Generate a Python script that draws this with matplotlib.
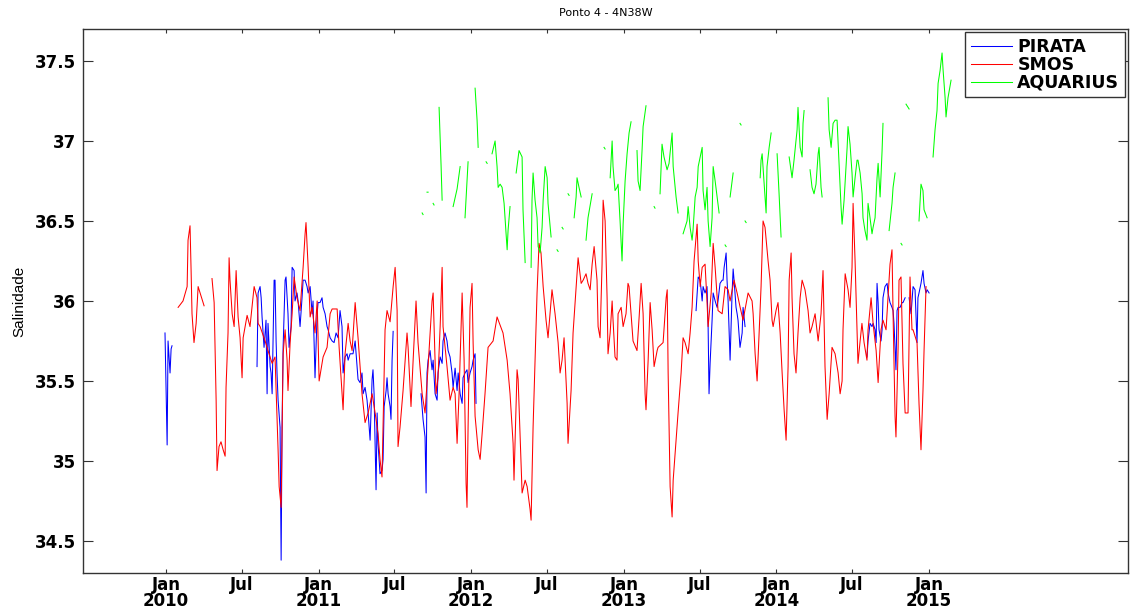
import numpy as np
import matplotlib
matplotlib.use("Agg")
import matplotlib.pyplot as plt
import matplotlib.dates as mdates
from datetime import datetime

nan = np.nan

# time in decimal years, salinity values (nan = gap)
pirata_t = [2009.993, 2010.007, 2010.013, 2010.026, 2010.033, 2010.039, nan,
            2010.596, 2010.603, 2010.616, 2010.623, 2010.629, 2010.642, 2010.655, 2010.662, 2010.668,
            2010.682, 2010.688, 2010.695, 2010.708, 2010.714, 2010.721, 2010.727, 2010.734, 2010.747,
            2010.754, 2010.760, 2010.767, 2010.780, 2010.786, 2010.799, 2010.806, 2010.819, 2010.826,
            2010.839, 2010.845, 2010.858, 2010.865, 2010.878, 2010.891, 2010.898, 2010.911, 2010.924,
            2010.931, 2010.944, 2010.957, 2010.963, 2010.976, 2010.990, 2010.996, 2011.009, 2011.022,
            2011.029, 2011.042, 2011.055, 2011.062, 2011.075, 2011.088, 2011.101, 2011.114, 2011.127,
            2011.140, 2011.153, 2011.160, 2011.173, 2011.186, 2011.193, 2011.206, 2011.219, 2011.225,
            2011.239, 2011.252, 2011.258, 2011.271, 2011.284, 2011.291, 2011.304, 2011.317, 2011.324,
            2011.337, 2011.350, 2011.356, 2011.363, 2011.376, 2011.383, 2011.389, 2011.402, 2011.415,
            2011.422, 2011.429, 2011.442, 2011.448, 2011.455, 2011.468, 2011.474, 2011.481, 2011.488, nan,
            2011.671, 2011.684, 2011.697, 2011.704, 2011.710, 2011.717, 2011.730, 2011.743, 2011.750,
            2011.763, 2011.776, 2011.782, 2011.796, 2011.809, 2011.815, 2011.828, 2011.841, 2011.848,
            2011.861, 2011.874, 2011.881, 2011.894, 2011.907, 2011.914, 2011.927, 2011.940, 2011.946,
            2011.959, 2011.972, 2011.979, 2011.992, 2012.005, 2012.012, 2012.025, 2012.031, nan,
            2013.473, 2013.480, 2013.487, 2013.500, 2013.513, 2013.519, 2013.532, 2013.545, 2013.552,
            2013.558, 2013.565, 2013.578, 2013.585, 2013.598, 2013.611, 2013.617, 2013.630, 2013.644,
            2013.650, 2013.657, 2013.670, 2013.676, 2013.683, 2013.696, 2013.709, 2013.716, 2013.722,
            2013.735, 2013.742, 2013.748, 2013.761, 2013.775, 2013.781, 2013.794, nan,
            2014.593, 2014.600, 2014.613, 2014.626, 2014.633, 2014.646, 2014.653, 2014.659, 2014.666,
            2014.672, 2014.685, 2014.692, 2014.698, 2014.711, 2014.725, 2014.731, 2014.744, 2014.757,
            2014.764, 2014.770, 2014.783, 2014.790, 2014.797, 2014.810, 2014.823, 2014.829, 2014.843, nan,
            2014.869, 2014.882, 2014.895, 2014.908, 2014.921, 2014.927, 2014.934, 2014.947, 2014.960,
            2014.967, 2014.980, 2014.987, 2015.000]
pirata_s = [35.80, 35.10, 35.75, 35.55, 35.70, 35.72, nan,
            35.59, 36.05, 36.09, 36.02, 35.90, 35.71, 35.88, 35.42, 35.86,
            35.59, 35.55, 35.42, 36.13, 36.13, 35.75, 35.55, 35.38, 35.21,
            34.38, 35.21, 35.71, 36.13, 36.15, 35.92, 35.71, 35.84, 36.21,
            36.19, 36.00, 36.05, 36.00, 35.84, 36.02, 36.13, 36.13, 36.09,
            36.05, 36.09, 35.92, 36.00, 35.52, 35.92, 35.99, 35.99, 36.02,
            35.96, 35.92, 35.84, 35.82, 35.77, 35.75, 35.74, 35.80, 35.77,
            35.94, 35.84, 35.55, 35.65, 35.67, 35.63, 35.67, 35.67, 35.67,
            35.75, 35.59, 35.51, 35.49, 35.55, 35.42, 35.46, 35.38, 35.30,
            35.13, 35.51, 35.57, 35.42, 34.82, 35.30, 35.11, 34.92, 34.94,
            35.01, 35.34, 35.44, 35.52, 35.42, 35.34, 35.26, 35.63, 35.81, nan,
            35.42, 35.26, 35.15, 34.80, 35.55, 35.63, 35.69, 35.57, 35.63,
            35.42, 35.38, 35.55, 35.65, 35.61, 35.75, 35.80, 35.75, 35.69,
            35.65, 35.55, 35.46, 35.58, 35.44, 35.55, 35.42, 35.36, 35.52,
            35.55, 35.57, 35.49, 35.55, 35.59, 35.63, 35.67, 35.36, nan,
            35.94, 36.05, 36.15, 36.13, 36.00, 36.09, 36.05, 36.09, 35.84,
            35.42, 35.61, 35.88, 36.05, 36.00, 35.96, 36.00, 36.11, 36.13,
            36.13, 36.21, 36.30, 36.13, 36.00, 35.63, 36.05, 36.20, 36.13,
            35.96, 35.92, 35.88, 35.71, 35.80, 35.96, 35.84, nan,
            35.65, 35.75, 35.86, 35.84, 35.86, 35.82, 35.74, 36.11, 35.99,
            35.82, 35.75, 35.82, 36.02, 36.09, 36.11, 36.05, 35.99, 35.96,
            35.94, 35.86, 35.57, 35.94, 35.96, 35.96, 35.99, 35.99, 36.02, nan,
            36.02, 35.92, 36.09, 36.07, 35.74, 36.02, 36.05, 36.11, 36.19,
            36.11, 36.05, 36.07, 36.05]

smos_t = [2010.079, 2010.111, 2010.138, 2010.144, 2010.157, 2010.164, 2010.170, 2010.183, 2010.197,
          2010.210, 2010.249, nan,
          2010.301, 2010.315, 2010.328, 2010.334, 2010.347, 2010.360, 2010.374, 2010.387, 2010.393,
          2010.406, 2010.413, 2010.419, 2010.433, 2010.446, 2010.459, 2010.472, 2010.485, 2010.498,
          2010.505, 2010.531, 2010.550, 2010.577, 2010.596, 2010.603, 2010.616, 2010.649, 2010.668,
          2010.695, 2010.714, 2010.734, 2010.741, 2010.754, 2010.767, 2010.780, 2010.793, 2010.799,
          2010.813, 2010.826, 2010.839, 2010.858, 2010.878, 2010.898, 2010.911, 2010.917, 2010.931,
          2010.944, 2010.957, 2010.976, 2010.990, 2011.003, 2011.029, 2011.055, 2011.075, 2011.088,
          2011.121, 2011.134, 2011.147, 2011.160, 2011.173, 2011.193, 2011.206, 2011.219, 2011.239,
          2011.258, 2011.284, 2011.304, 2011.324, 2011.350, 2011.370, 2011.389, 2011.402, 2011.415,
          2011.435, 2011.448, 2011.468, 2011.488, 2011.501, 2011.514, 2011.520, 2011.533, 2011.553,
          2011.579, 2011.586, 2011.605, 2011.619, 2011.638, 2011.651, 2011.678, 2011.697, 2011.717,
          2011.743, 2011.750, 2011.769, 2011.782, 2011.796, 2011.809, 2011.815, 2011.841, 2011.861,
          2011.881, 2011.894, 2011.907, 2011.920, 2011.940, 2011.953, 2011.966, 2011.972, 2011.979,
          2011.992, 2012.005, 2012.012, 2012.025, 2012.045, 2012.058, 2012.071, 2012.090, 2012.110,
          2012.143, 2012.169, 2012.208, 2012.235, 2012.254, 2012.274, 2012.280, 2012.300, 2012.307,
          2012.333, 2012.353, 2012.366, 2012.385, 2012.392, 2012.405, 2012.418, 2012.431, 2012.444,
          2012.457, 2012.471, 2012.490, 2012.503, 2012.516, 2012.529, 2012.549, 2012.569, 2012.582,
          2012.595, 2012.608, 2012.628, 2012.634, 2012.654, 2012.667, 2012.687, 2012.700, 2012.720,
          2012.733, 2012.752, 2012.765, 2012.779, 2012.792, 2012.805, 2012.824, 2012.831, 2012.844,
          2012.857, 2012.864, 2012.877, 2012.890, 2012.896, 2012.910, 2012.923, 2012.929, 2012.942,
          2012.955, 2012.962, 2012.982, 2012.995, 2013.014, 2013.027, 2013.034, 2013.047, 2013.060,
          2013.086, 2013.100, 2013.113, 2013.126, 2013.139, 2013.145, 2013.159, 2013.172, 2013.185,
          2013.198, 2013.218, 2013.224, 2013.257, 2013.277, 2013.284, 2013.290, 2013.303, 2013.316,
          2013.323, 2013.342, 2013.355, 2013.375, 2013.388, 2013.401, 2013.421, 2013.434, 2013.447,
          2013.460, 2013.480, 2013.487, 2013.500, 2013.513, 2013.532, 2013.545, 2013.552, 2013.572,
          2013.585, 2013.598, 2013.611, 2013.617, 2013.644, 2013.663, 2013.683, 2013.696, 2013.722,
          2013.742, 2013.762, 2013.781, 2013.814, 2013.840, 2013.847, 2013.860, 2013.873, 2013.886,
          2013.899, 2013.912, 2013.925, 2013.945, 2013.958, 2013.971, 2013.978, 2013.997, 2014.010,
          2014.024, 2014.037, 2014.050, 2014.063, 2014.076, 2014.083, 2014.096, 2014.102, 2014.115,
          2014.128, 2014.141, 2014.155, 2014.168, 2014.187, 2014.207, 2014.220, 2014.233, 2014.253,
          2014.273, 2014.292, 2014.305, 2014.318, 2014.332, 2014.345, 2014.364, 2014.384, 2014.404,
          2014.417, 2014.430, 2014.436, 2014.450, 2014.469, 2014.482, 2014.495, 2014.502, 2014.515,
          2014.534, 2014.547, 2014.560, 2014.574, 2014.593, 2014.600, 2014.620, 2014.633, 2014.653,
          2014.666, 2014.685, 2014.698, 2014.718, 2014.731, 2014.744, 2014.757, 2014.764, 2014.777,
          2014.783, 2014.797, 2014.803, 2014.816, 2014.829, 2014.843, 2014.862, 2014.875, 2014.888,
          2014.895, 2014.921, 2014.934, 2014.947, 2014.960, 2014.967, 2014.980]
smos_s = [35.96, 36.00, 36.09, 36.38, 36.47, 36.19, 35.92, 35.74, 35.86,
          36.09, 35.97, nan,
          36.14, 35.99, 35.38, 34.94, 35.09, 35.12, 35.07, 35.03, 35.46,
          35.80, 36.27, 36.13, 35.92, 35.84, 36.19, 35.90, 35.77, 35.52,
          35.77, 35.91, 35.84, 36.09, 36.02, 35.86, 35.84, 35.75, 35.69,
          35.61, 35.65, 35.07, 34.84, 34.71, 35.67, 35.82, 35.63, 35.44,
          35.74, 35.92, 36.15, 36.02, 35.94, 36.21, 36.42, 36.49, 36.21,
          35.90, 35.96, 35.80, 36.00, 35.50, 35.65, 35.71, 35.92, 35.95,
          35.95, 35.71, 35.52, 35.32, 35.67, 35.86, 35.75, 35.69, 35.99,
          35.77, 35.42, 35.24, 35.30, 35.42, 35.30, 35.17, 35.01, 34.90,
          35.82, 35.94, 35.87, 36.09, 36.21, 35.94, 35.09, 35.21, 35.44,
          35.80, 35.71, 35.34, 35.63, 36.00, 35.74, 35.42, 35.30, 35.59,
          36.00, 36.05, 35.42, 35.52, 35.84, 36.21, 35.84, 35.59, 35.38,
          35.46, 35.42, 35.11, 35.42, 36.05, 35.63, 34.86, 34.71, 35.21,
          35.96, 36.11, 35.74, 35.28, 35.07, 35.01, 35.17, 35.42, 35.71,
          35.75, 35.90, 35.80, 35.63, 35.42, 35.11, 34.88, 35.57, 35.51,
          34.80, 34.88, 34.84, 34.70, 34.63, 35.21, 35.63, 36.05, 36.36,
          36.30, 36.09, 35.88, 35.77, 35.92, 36.07, 35.92, 35.74, 35.55,
          35.63, 35.77, 35.36, 35.11, 35.44, 35.80, 36.09, 36.27, 36.11,
          36.13, 36.17, 36.11, 36.07, 36.23, 36.34, 36.13, 35.84, 35.77,
          36.23, 36.63, 36.50, 36.02, 35.67, 35.80, 36.00, 35.88, 35.65,
          35.63, 35.92, 35.96, 35.84, 35.92, 36.11, 36.09, 35.92, 35.75,
          35.69, 35.90, 36.11, 35.92, 35.42, 35.32, 35.63, 35.99, 35.82,
          35.59, 35.69, 35.71, 35.74, 36.02, 36.07, 35.55, 34.84, 34.65,
          34.88, 35.13, 35.30, 35.55, 35.77, 35.74, 35.67, 35.80, 35.96,
          36.25, 36.48, 36.25, 36.09, 36.21, 36.23, 35.99, 35.84, 36.05,
          36.36, 36.21, 36.02, 35.94, 35.92, 36.09, 36.07, 36.00, 36.13,
          36.05, 35.96, 35.88, 36.05, 36.00, 35.92, 35.67, 35.50, 35.80,
          36.09, 36.50, 36.46, 36.25, 36.13, 35.88, 35.84, 35.94, 35.99,
          35.80, 35.55, 35.32, 35.13, 35.59, 36.13, 36.30, 36.02, 35.67,
          35.55, 35.80, 36.02, 36.13, 36.07, 35.94, 35.80, 35.84, 35.92,
          35.75, 35.92, 36.19, 35.59, 35.26, 35.42, 35.71, 35.67, 35.55,
          35.42, 35.50, 35.82, 36.17, 36.07, 35.96, 36.21, 36.61, 36.25,
          35.61, 35.74, 35.86, 35.74, 35.63, 35.82, 36.02, 35.86, 35.69,
          35.49, 35.82, 35.88, 35.82, 36.02, 36.23, 36.32, 35.92, 35.28,
          35.15, 35.71, 36.13, 36.15, 35.61, 35.30, 35.30, 36.15, 35.82,
          35.82, 35.74, 35.36, 35.07, 35.44, 35.69, 36.09]

aquarius_t = [2011.678, 2011.684, nan, 2011.710, 2011.717, nan, 2011.750, 2011.756, nan,
              2011.789, 2011.802, 2011.809, nan, 2011.881, 2011.907, 2011.927, nan,
              2011.959, 2011.979, nan, 2012.025, 2012.038, 2012.045, nan, 2012.097, 2012.104, nan,
              2012.136, 2012.156, 2012.169, 2012.176, 2012.189, 2012.202, 2012.215, 2012.235, 2012.241,
              2012.254, nan, 2012.294, 2012.313, 2012.333, 2012.339, 2012.353, nan,
              2012.392, 2012.398, 2012.405, 2012.418, 2012.431, 2012.438, 2012.451, 2012.464, 2012.471,
              2012.484, 2012.497, 2012.503, 2012.523, nan, 2012.562, 2012.569, nan, 2012.595, 2012.602, nan,
              2012.634, 2012.641, nan, 2012.674, 2012.687, 2012.693, 2012.706, 2012.720, nan,
              2012.752, 2012.765, 2012.792, nan, 2012.870, 2012.877, nan,
              2012.910, 2012.923, 2012.929, 2012.942, 2012.955, 2012.962, 2012.975, 2012.988, 2012.995,
              2013.008, 2013.021, 2013.034, 2013.047, nan,
              2013.086, 2013.093, 2013.106, 2013.119, 2013.126, 2013.145, nan, 2013.198, 2013.204, nan,
              2013.237, 2013.250, 2013.263, 2013.283, 2013.296, 2013.316, 2013.323, 2013.342, 2013.355, nan,
              2013.388, 2013.414, 2013.421, 2013.434, 2013.447, 2013.453, 2013.467, 2013.480, 2013.487,
              2013.500, 2013.513, 2013.519, 2013.532, 2013.545, 2013.552, 2013.565, 2013.578, 2013.585,
              2013.598, 2013.611, 2013.624, nan, 2013.663, 2013.670, nan, 2013.696, 2013.716, nan,
              2013.761, 2013.768, nan, 2013.794, 2013.801, nan,
              2013.893, 2013.899, 2013.906, 2013.919, 2013.932, 2013.938, 2013.952, 2013.965, nan,
              2014.004, 2014.017, 2014.030, nan,
              2014.083, 2014.102, 2014.115, 2014.135, 2014.141, 2014.155, 2014.168, 2014.174, 2014.181, nan,
              2014.220, 2014.233, 2014.246, 2014.259, 2014.273, 2014.279, 2014.292, 2014.299, nan,
              2014.338, 2014.345, 2014.358, 2014.371, 2014.384, 2014.397, 2014.410, 2014.423, 2014.430,
              2014.443, 2014.463, 2014.469, 2014.482, 2014.495, 2014.502, 2014.515, 2014.528, 2014.534,
              2014.548, 2014.561, 2014.567, 2014.580, 2014.593, 2014.600, 2014.613, 2014.626, 2014.633,
              2014.646, 2014.659, 2014.666, 2014.679, 2014.692, 2014.698, nan,
              2014.738, 2014.757, 2014.764, 2014.777, nan, 2014.816, 2014.823, nan, 2014.849, 2014.869, nan,
              2014.934, 2014.947, 2014.960, 2014.967, 2014.987, nan,
              2015.026, 2015.039, 2015.052, 2015.059, 2015.072, 2015.085, 2015.092, 2015.105, 2015.111,
              2015.124, 2015.144]
aquarius_s = [36.55, 36.54, nan, 36.68, 36.68, nan, 36.61, 36.60, nan,
              37.21, 36.85, 36.63, nan, 36.59, 36.70, 36.84, nan,
              36.52, 36.87, nan, 37.33, 37.13, 36.96, nan, 36.87, 36.86, nan,
              36.92, 37.00, 36.84, 36.71, 36.73, 36.71, 36.61, 36.32, 36.44,
              36.59, nan, 36.80, 36.94, 36.90, 36.57, 36.24, nan,
              36.21, 36.63, 36.80, 36.63, 36.52, 36.34, 36.30, 36.46, 36.63,
              36.84, 36.77, 36.61, 36.40, nan, 36.32, 36.31, nan, 36.46, 36.45, nan,
              36.67, 36.66, nan, 36.52, 36.65, 36.77, 36.71, 36.65, nan,
              36.38, 36.52, 36.67, nan, 36.96, 36.95, nan,
              36.77, 37.00, 36.84, 36.69, 36.71, 36.73, 36.50, 36.25, 36.48,
              36.75, 36.92, 37.05, 37.12, nan,
              36.94, 36.75, 36.69, 36.94, 37.09, 37.22, nan, 36.59, 36.58, nan,
              36.67, 36.98, 36.90, 36.82, 36.86, 37.05, 36.84, 36.65, 36.55, nan,
              36.42, 36.50, 36.59, 36.46, 36.38, 36.44, 36.65, 36.71, 36.84,
              36.90, 36.96, 36.69, 36.57, 36.71, 36.50, 36.34, 36.52, 36.84,
              36.75, 36.65, 36.55, nan, 36.35, 36.34, nan, 36.65, 36.80, nan,
              37.11, 37.10, nan, 36.50, 36.49, nan,
              36.77, 36.88, 36.92, 36.73, 36.55, 36.84, 36.96, 37.05, nan,
              36.92, 36.67, 36.40, nan,
              36.90, 36.77, 36.88, 37.07, 37.21, 36.96, 36.90, 37.11, 37.19, nan,
              36.82, 36.71, 36.67, 36.73, 36.92, 36.96, 36.71, 36.65, nan,
              37.27, 37.07, 36.96, 37.11, 37.13, 37.13, 36.86, 36.59, 36.48,
              36.63, 36.96, 37.09, 36.98, 36.80, 36.65, 36.77, 36.88, 36.88,
              36.80, 36.67, 36.52, 36.44, 36.38, 36.61, 36.52, 36.42, 36.46,
              36.52, 36.77, 36.86, 36.65, 36.94, 37.11, nan,
              36.44, 36.61, 36.71, 36.80, nan, 36.36, 36.35, nan, 37.23, 37.20, nan,
              36.50, 36.73, 36.69, 36.57, 36.52, nan,
              36.90, 37.07, 37.19, 37.36, 37.44, 37.55, 37.44, 37.27, 37.15,
              37.27, 37.38]

tick_dates = [datetime(2010, 1, 1), datetime(2010, 7, 1), datetime(2011, 1, 1), datetime(2011, 7, 1),
              datetime(2012, 1, 1), datetime(2012, 7, 1), datetime(2013, 1, 1), datetime(2013, 7, 1),
              datetime(2014, 1, 1), datetime(2014, 7, 1), datetime(2015, 1, 1)]
tick_labels = ["Jan\n2010", "Jul", "Jan\n2011", "Jul", "Jan\n2012", "Jul", "Jan\n2013", "Jul",
               "Jan\n2014", "Jul", "Jan\n2015"]
y_ticks = [34.5, 35, 35.5, 36, 36.5, 37, 37.5]
y_labels = ["34.5", "35", "35.5", "36", "36.5", "37", "37.5"]


def to_num(t):
    # decimal year -> matplotlib date number
    t = np.asarray(t, dtype=float)
    return mdates.date2num(datetime(2010, 1, 1)) + (t - 2010.0) * 365.25


def main():
    fig = plt.figure(figsize=(11.3, 6.1), dpi=100)
    ax = fig.add_axes([0.0735, 0.0607, 0.9248, 0.8918])

    ax.plot(to_num(pirata_t), pirata_s, color=(0, 0, 1), lw=0.75, label="PIRATA")
    ax.plot(to_num(smos_t), smos_s, color=(1, 0, 0), lw=0.75, label="SMOS")
    ax.plot(to_num(aquarius_t), aquarius_s, color=(0, 1, 0), lw=0.75, label="AQUARIUS")

    ax.set_xlim(to_num(2009.456), to_num(2016.304))
    ax.set_ylim(34.3, 37.7)

    ax.set_xticks(mdates.date2num(tick_dates))
    ax.set_xticklabels(tick_labels, fontsize=12, fontweight="bold", family="DejaVu Sans",
                       linespacing=0.85)
    ax.set_yticks(y_ticks)
    ax.set_yticklabels(y_labels, fontsize=12, fontweight="bold", family="DejaVu Sans")
    ax.tick_params(axis="x", direction="in", length=3, top=True, pad=2, colors="#333333",
                   labelcolor="black")
    ax.tick_params(axis="y", direction="in", length=7, right=True, pad=5, colors="#333333",
                   labelcolor="black")
    for sp in ax.spines.values():
        sp.set_color("#333333")
        sp.set_linewidth(1.0)

    ax.set_title("Ponto 4 - 4N38W", fontsize=8, family="DejaVu Sans", pad=9)
    ax.set_ylabel("Salinidade", fontsize=11, family="Liberation Sans", labelpad=6)

    leg = ax.legend(loc="upper right", prop={"weight": "bold", "family": "DejaVu Sans", "size": 12.5},
                    fancybox=False, framealpha=1, edgecolor="#333333", borderaxespad=0.2,
                    handlelength=2.4, handletextpad=0.3, labelspacing=0.0, borderpad=0.3)
    leg.get_frame().set_linewidth(1.0)

    fig.savefig("out.png", dpi=100)


if __name__ == "__main__":
    main()
